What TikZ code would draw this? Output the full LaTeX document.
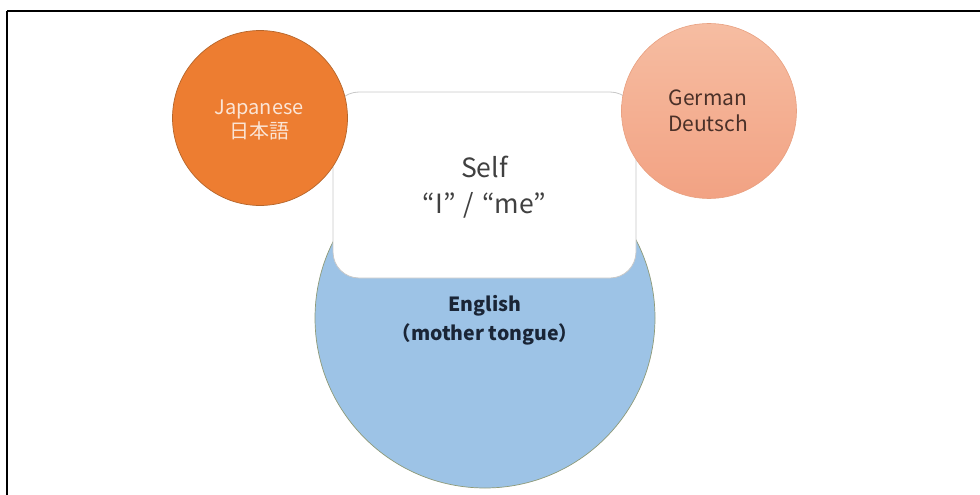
\documentclass[tikz,border=0pt]{standalone}
\usepackage{fontspec}
\setmainfont{Noto Sans CJK JP}
\usetikzlibrary{shapes.geometric}
\definecolor{jporange}{HTML}{ED7D31}
\definecolor{jpedge}{HTML}{B5652A}
\definecolor{detop}{HTML}{F6BDA2}
\definecolor{debot}{HTML}{F2A283}
\definecolor{deedge}{HTML}{E8A080}
\definecolor{enblue}{HTML}{9DC3E6}
\definecolor{enedge}{HTML}{8E9A78}
\definecolor{rectedge}{HTML}{C8C8C8}
\definecolor{jptext}{HTML}{FBE5D6}
\definecolor{detext}{HTML}{4A3028}
\definecolor{entext}{HTML}{1A2536}
\definecolor{selftext}{HTML}{404040}
\tikzset{
  lang/.style={circle, inner sep=0pt, align=center},
  selfbox/.style={rectangle, rounded corners=26pt, draw=rectedge, line width=0.8pt, fill=white, minimum width=303pt, minimum height=186pt, align=center},
  frame/.style={draw=black, line width=1.8pt}
}
\begin{document}
\begin{tikzpicture}[x=1pt,y=-1pt]
\useasboundingbox (0,0) rectangle (980,495);
\draw[frame] (7,11) -- (990,11);
\draw[frame] (7,11) -- (7,505);
% English circle
\node[lang, fill=enblue, draw=enedge, line width=0.7pt, minimum size=340pt] (en) at (485,318) {};
\node[text=entext, font=\fontsize{19.5}{29}\selectfont\bfseries, align=center] (entxt) at (485,320) {English\\（mother tongue）};
% Self box
\node[selfbox] (self) at (484.5,185) {};
\node[text=selftext, font=\fontsize{26.5}{36}\selectfont, align=center] (selftxt) at (484.5,187) {Self\\“I”\hspace{0.3em}/\hspace{0.3em}“me”};
% Japanese
\node[lang, fill=jporange, draw=jpedge, line width=0.7pt, minimum size=175pt] (jp) at (260,118) {};
\node[text=jptext, font=\fontsize{20}{24}\selectfont, align=center] (jptxt) at (259,120) {Japanese\\日本語};
% German
\node[lang, top color=detop, bottom color=debot, draw=deedge, line width=0.6pt, minimum size=175pt] (de) at (709,111) {};
\node[text=detext, font=\fontsize{21}{26}\selectfont, align=center] (detxt) at (708,111) {German\\Deutsch};
\end{tikzpicture}
\end{document}
